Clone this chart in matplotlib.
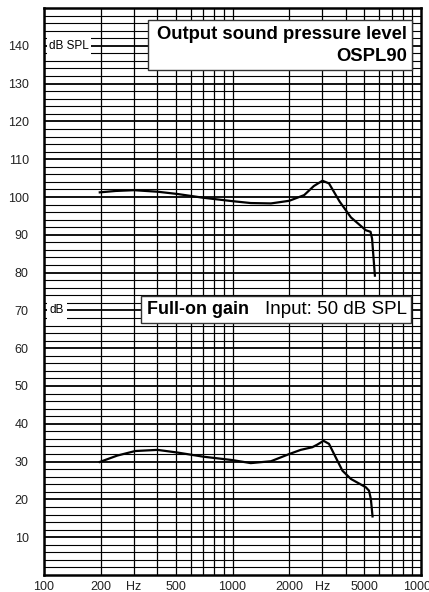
import numpy as np
import matplotlib.pyplot as plt

plt.rcParams['font.family'] = ['Liberation Sans', 'DejaVu Sans']

# OSPL90 curve (Hz, dB SPL)
ospl_freq = [195, 240, 300, 400, 510, 700, 1000, 1250, 1600, 2000, 2400,
             2700, 3000, 3250, 3700, 4250, 5100, 5400, 5500, 5700]
ospl_db = [101.2, 101.6, 101.8, 101.4, 100.8, 99.8, 98.9, 98.4, 98.3, 99.0,
           100.5, 102.9, 104.3, 103.6, 98.8, 94.6, 91.2, 90.8, 89.0, 78.9]

# Full-on gain curve (Hz, dB)
gain_freq = [195, 245, 305, 400, 510, 700, 1000, 1250, 1600, 2000, 2300,
             2650, 2820, 3040, 3250, 3530, 3830, 4250, 5100, 5300, 5420, 5540]
gain_db = [29.8, 31.6, 32.8, 33.1, 32.4, 31.3, 30.4, 29.6, 30.1, 32.0, 33.1,
           33.8, 34.5, 35.5, 34.7, 31.1, 27.6, 25.4, 23.2, 22.3, 20.1, 15.2]

xtick_vals = [100, 200, 300, 500, 1000, 2000, 3000, 5000, 10000]
xtick_labels = ['100', '200', 'Hz', '500', '1000', '2000', 'Hz', '5000', '10000']
ytick_vals = list(range(10, 150, 10))

W, H = 429, 592
fig = plt.figure(figsize=(W / 100, H / 100), dpi=100)
ax = fig.add_axes([44 / W, (H - 575) / H, 377 / W, 567 / H])
ax.set_xscale('log')
ax.set_xlim(100, 10000)
ax.set_ylim(0, 150)

# grid
vlines = [m * 10 ** e for e in (2, 3) for m in range(1, 10)]
for v in vlines:
    ax.axvline(v, color='black', lw=0.9, zorder=1)
for h in range(2, 150, 2):
    ax.axhline(h, color='black', lw=1.3 if h % 10 == 0 else 0.8, zorder=1)

ax.plot(ospl_freq, ospl_db, color='black', lw=1.6, zorder=3,
        solid_capstyle='butt', solid_joinstyle='round')
ax.plot(gain_freq, gain_db, color='black', lw=1.6, zorder=3,
        solid_capstyle='butt', solid_joinstyle='round')

ax.set_xticks(xtick_vals)
ax.set_xticklabels(xtick_labels)
ax.xaxis.set_minor_locator(plt.NullLocator())
ax.set_yticks(ytick_vals)
ax.set_yticklabels([str(v) for v in ytick_vals])
ax.tick_params(length=0, labelsize=9, colors='#222222')
ax.tick_params(axis='y', pad=11)
ax.tick_params(axis='x', pad=4)
for s in ax.spines.values():
    s.set_linewidth(1.8)

# unit labels on the left, on white patches that cut the grid
ytr = ax.get_yaxis_transform()
ax.add_patch(plt.Rectangle((3 / 377, 137.3), 44 / 377, 5.4, transform=ytr,
                           facecolor='white', edgecolor='none', zorder=2))
ax.text(5 / 377, 140, 'dB SPL', transform=ytr, fontsize=8.5, va='center',
        ha='left', zorder=4)
ax.add_patch(plt.Rectangle((3 / 377, 67.3), 20 / 377, 5.4, transform=ytr,
                           facecolor='white', edgecolor='none', zorder=2))
ax.text(5 / 377, 70, 'dB', transform=ytr, fontsize=8.5, va='center',
        ha='left', zorder=4)

# title boxes
ax.add_patch(plt.Rectangle((104 / 377, 133.5), 264 / 377, 13.2, transform=ytr,
                           facecolor='white', edgecolor='#333333', lw=1.0,
                           zorder=4))
ax.text(0.963, 140.1, 'Output sound pressure level\nOSPL90', transform=ytr,
        ha='right', va='center', fontsize=13.3, fontweight='bold',
        linespacing=1.35, zorder=5)
ax.add_patch(plt.Rectangle((0.2565, 66.6), 0.717, 7.1, transform=ytr,
                           facecolor='white', edgecolor='#333333', lw=1.0,
                           zorder=4))
ax.text(0.273, 70.2, 'Full-on gain', transform=ytr,
        ha='left', va='center', fontsize=12.9, fontweight='bold', zorder=5)
ax.text(0.585, 70.2, 'Input: 50 dB SPL', transform=ytr,
        ha='left', va='center', fontsize=13.5, zorder=5)

fig.savefig('out.png', dpi=100)
